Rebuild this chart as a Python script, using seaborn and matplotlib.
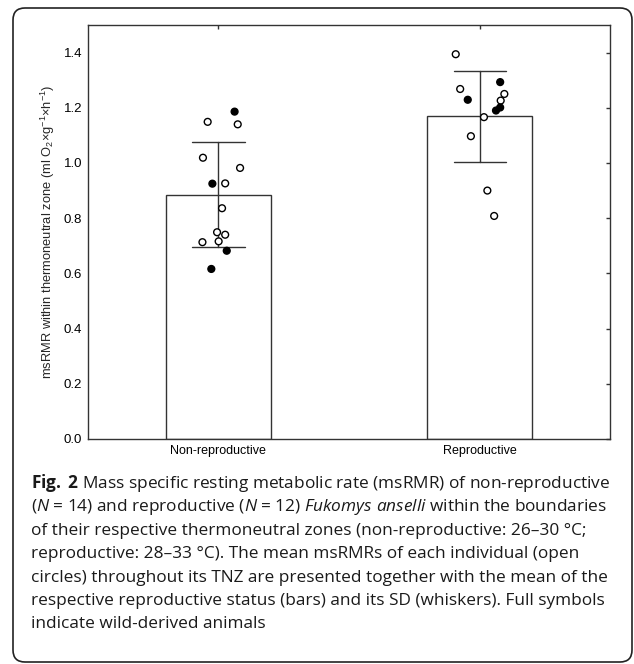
import matplotlib
matplotlib.use("Agg")
import matplotlib.pyplot as plt
import matplotlib.transforms as mtransforms
from matplotlib.patches import FancyBboxPatch
import pandas as pd
import seaborn as sns

# Werte
status_order = ["Non-reproductive", "Reproductive"]

nonrep_msrmr = [1.186, 1.149, 1.140, 1.019, 0.982, 0.925, 0.926,
                0.836, 0.749, 0.740, 0.713, 0.716, 0.682, 0.616]
nonrep_wild = [True, False, False, False, False, True, False,
               False, False, False, False, False, True, True]
nonrep_jitter = [0.062, -0.041, 0.074, -0.059, 0.083, -0.023, 0.026,
                 0.014, -0.005, 0.026, -0.061, 0.001, 0.032, -0.027]

rep_msrmr = [1.394, 1.293, 1.268, 1.250, 1.229, 1.226,
             1.201, 1.190, 1.166, 1.097, 0.900, 0.808]
rep_wild = [False, True, False, False, True, False,
            True, True, False, False, False, False]
rep_jitter = [-0.092, 0.078, -0.075, 0.094, -0.046, 0.080,
              0.078, 0.062, 0.016, -0.034, 0.029, 0.055]

y_ticks = [0.0, 0.2, 0.4, 0.6, 0.8, 1.0, 1.2, 1.4]

caption_lines = [
    r"$\mathbf{Fig.}$ $\mathbf{2}$ Mass specific resting metabolic rate (msRMR) of non-reproductive",
    r"($\mathit{N}$ = 14) and reproductive ($\mathit{N}$ = 12) $\mathit{Fukomys\ anselli}$ within the boundaries",
    "of their respective thermoneutral zones (non-reproductive: 26–30 °C;",
    "reproductive: 28–33 °C). The mean msRMRs of each individual (open",
    "circles) throughout its TNZ are presented together with the mean of the",
    "respective reproductive status (bars) and its SD (whiskers). Full symbols",
    "indicate wild-derived animals",
]

df = pd.DataFrame({
    "status": [status_order[0]] * len(nonrep_msrmr) + [status_order[1]] * len(rep_msrmr),
    "msRMR": nonrep_msrmr + rep_msrmr,
    "wild": nonrep_wild + rep_wild,
    "jitter": nonrep_jitter + rep_jitter,
})
df["pos"] = df["status"].map({s: i for i, s in enumerate(status_order)}) + df["jitter"]

sns.set_theme(style="white")
plt.rcParams["font.family"] = ["Liberation Sans", "DejaVu Sans"]
plt.rcParams["mathtext.fontset"] = "custom"
plt.rcParams["mathtext.rm"] = "Open Sans"
plt.rcParams["mathtext.it"] = "Open Sans:italic"
plt.rcParams["mathtext.bf"] = "Open Sans:bold"

dark = "#333333"
fig = plt.figure(figsize=(6.34, 6.64), dpi=100)
ax = fig.add_axes([0.1383, 0.3389, 0.8246, 0.6235])

sns.barplot(data=df, x="status", y="msRMR", order=status_order, errorbar="sd",
            capsize=0.2, width=0.4, color="white", edgecolor=dark, linewidth=1,
            err_kws={"color": dark, "linewidth": 1}, ax=ax)
sns.scatterplot(data=df, x="pos", y="msRMR", hue="wild",
                palette={True: "black", False: "white"}, edgecolor="black",
                linewidth=1, s=24, legend=False, zorder=3, ax=ax)

ax.set_xlim(-0.5, 1.5)
ax.set_ylim(0, 1.5)
ax.set_xticks([0, 1])
ax.set_xticklabels(status_order, fontsize=9)
ax.set_yticks(y_ticks)
ax.set_yticklabels([f"{v:.1f}" for v in y_ticks], fontsize=9.5)
ax.set_xlabel("")
ax.set_ylabel(r"msRMR within thermoneutral zone (ml O$\mathregular{_2}$×g$\mathregular{^{-1}}$×h$\mathregular{^{-1}}$)",
              fontsize=9.3, labelpad=5)
ax.tick_params(direction="in", length=3, width=1, color=dark, top=True, right=True,
               labelright=False, labeltop=False, pad=4, labelcolor="black")
for sp in ax.spines.values():
    sp.set_color(dark)
    sp.set_linewidth(1)

# Bildunterschrift
for i, line in enumerate(caption_lines):
    fig.text(31 / 634, 1 - (488 + i * 23.4) / 664, line, fontsize=12.4,
             family="Open Sans", color="#1a1a1a", va="baseline", ha="left")

# abgerundeter Rahmen
frame = FancyBboxPatch((13, 2), 619, 654, boxstyle="round,pad=0,rounding_size=12",
                       transform=mtransforms.IdentityTransform(), fill=False,
                       edgecolor="#222222", linewidth=1.2)
fig.add_artist(frame)

fig.savefig("out.png", dpi=100)
